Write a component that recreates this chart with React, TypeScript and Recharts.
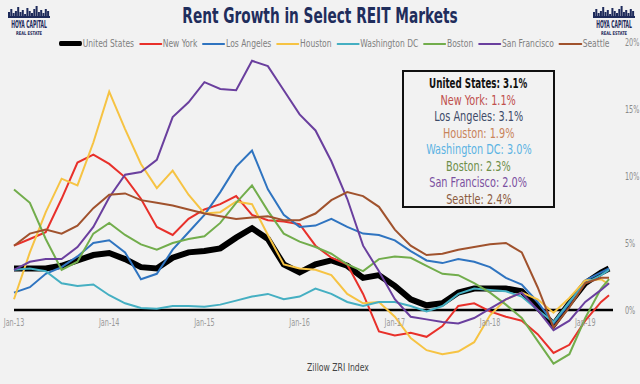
import { LineChart, Line, XAxis, YAxis, ReferenceLine } from 'recharts';

// months since Jan-13, sampled every two months
const months = [0, 2, 4, 6, 8, 10, 12, 14, 16, 18, 20, 22, 24, 26, 28, 30, 32, 34, 36, 38, 40, 42, 44, 46, 48, 50, 52, 54, 56, 58, 60, 62, 64, 66, 68, 70, 72, 74, 75];

const unitedStates = [3.1, 3.1, 3.1, 3.3, 3.7, 4.1, 4.25, 3.8, 3.2, 3.1, 3.9, 4.3, 4.4, 4.6, 5.4, 6.1, 5.3, 3.4, 2.8, 3.4, 3.7, 3.3, 2.4, 2.6, 1.8, 0.8, 0.35, 0.5, 1.3, 1.6, 1.6, 1.6, 1.4, 0.2, -1.1, 0.5, 2.0, 2.8, 3.1];
const newYork = [4.8, 5.3, 5.8, 8.3, 11.0, 11.6, 10.9, 9.9, 8.3, 6.2, 5.6, 6.8, 7.5, 7.9, 8.5, 7.1, 6.7, 6.6, 6.4, 4.8, 3.9, 3.4, 1.2, -1.6, -1.9, -1.7, -2.0, -1.2, 0.3, 0.5, -0.1, -0.5, -0.8, -1.8, -3.2, -2.6, -0.8, 0.6, 1.1];
const losAngeles = [1.3, 1.7, 2.7, 3.2, 4.0, 5.0, 5.2, 4.3, 2.3, 2.7, 4.5, 5.8, 7.1, 8.8, 10.7, 11.9, 9.0, 7.1, 6.2, 6.3, 6.8, 6.2, 5.7, 5.6, 5.2, 4.4, 3.7, 3.5, 3.8, 3.6, 3.2, 2.4, 1.9, 0.6, -1.0, 0.5, 2.2, 2.8, 3.1];
const houston = [0.8, 4.3, 7.3, 9.8, 9.3, 12.5, 16.3, 13.5, 10.9, 9.1, 10.4, 8.6, 7.2, 7.3, 8.1, 7.9, 5.6, 3.4, 3.1, 3.0, 2.6, 1.2, 0.5, 0.6, -0.5, -2.1, -3.0, -3.3, -3.1, -2.4, -0.4, 0.8, 1.3, 0.8, -0.2, 0.9, 2.2, 2.3, 1.9];
const washingtonDC = [3.0, 3.1, 2.9, 2.0, 1.8, 1.9, 1.1, 0.5, 0.15, 0.1, 0.3, 0.3, 0.25, 0.4, 0.7, 1.0, 1.2, 0.8, 1.0, 1.6, 1.2, 0.6, 0.3, 0.6, 0.6, 0.3, -0.1, 0.3, 1.2, 1.6, 1.5, 1.4, 1.0, 0.0, -0.9, 0.6, 2.0, 2.6, 3.0];
const boston = [9.0, 8.0, 5.3, 3.0, 3.6, 5.7, 6.5, 5.6, 4.9, 4.5, 5.0, 5.3, 5.5, 6.5, 8.0, 9.3, 7.4, 5.7, 5.1, 4.7, 4.2, 3.4, 2.9, 3.8, 4.0, 3.9, 3.3, 2.7, 2.6, 2.0, 1.3, 0.4, -0.6, -2.3, -4.0, -3.3, -0.6, 1.6, 2.3];
const sanFrancisco = [3.0, 3.6, 3.8, 3.8, 4.7, 6.2, 8.4, 10.1, 10.3, 11.2, 14.4, 15.5, 17.0, 16.5, 16.4, 18.6, 18.2, 16.4, 14.6, 13.4, 11.1, 8.3, 4.8, 2.9, 0.8, -0.5, -0.7, -0.9, -1.0, -0.6, 0.1, 0.8, 1.3, 0.0, -1.5, -0.8, 0.6, 1.5, 2.0];
const seattle = [4.8, 5.7, 6.0, 5.7, 6.3, 7.6, 8.6, 8.7, 8.2, 8.0, 7.8, 7.5, 7.2, 7.0, 6.8, 6.9, 7.0, 6.7, 6.7, 7.2, 8.2, 8.8, 8.5, 7.7, 6.0, 4.8, 4.1, 4.2, 4.5, 4.7, 4.9, 5.0, 4.3, 1.7, -1.3, 0.2, 2.0, 2.4, 2.4];

const yearTicks = [0, 12, 24, 36, 48, 60, 72];
const yearLabels = ['Jan-13', 'Jan-14', 'Jan-15', 'Jan-16', 'Jan-17', 'Jan-18', 'Jan-19'];
const percentTicks = [-5, 0, 5, 10, 15, 20];

const seriesNames = ['United States', 'New York', 'Los Angeles', 'Houston', 'Washington DC', 'Boston', 'San Francisco', 'Seattle'];
const latestReadings = ['3.1%', '1.1%', '3.1%', '1.9%', '3.0%', '2.3%', '2.0%', '2.4%'];

const series = [
  { key: 'us', values: unitedStates, color: '#000000', width: 6, boxColor: '#111111' },
  { key: 'ny', values: newYork, color: '#e8302a', width: 2, boxColor: '#c0504d' },
  { key: 'la', values: losAngeles, color: '#2f74c0', width: 2, boxColor: '#3d4a68' },
  { key: 'hou', values: houston, color: '#f6c343', width: 2, boxColor: '#c9845a' },
  { key: 'dc', values: washingtonDC, color: '#45afc2', width: 2, boxColor: '#5bb3e3' },
  { key: 'bos', values: boston, color: '#72ad4c', width: 2, boxColor: '#6e8f4a' },
  { key: 'sf', values: sanFrancisco, color: '#6a3f9e', width: 2, boxColor: '#7a4fa0' },
  { key: 'sea', values: seattle, color: '#a0522d', width: 2, boxColor: '#8b5a3c' },
];

const data = months.map((m, i) => {
  const row: Record<string, number> = { month: m };
  series.forEach((s) => { row[s.key] = s.values[i]; });
  return row;
});

const NARROW = '"DejaVu Sans Condensed", "Liberation Sans Narrow", sans-serif';
const PLOT_TOP = 42;
const PLOT_BOTTOM = 377;
// y pixel of the 0% line, from the axis domain [-5, 20]
const ZERO_Y = PLOT_TOP + ((20 - 0) / 25) * (PLOT_BOTTOM - PLOT_TOP);
const LEGEND_SQUEEZE = 0.765;

const YearTick = (props: any) => {
  const { x, payload } = props;
  const label = yearLabels[yearTicks.indexOf(payload.value)];
  return (
    <text transform={`translate(${x},${ZERO_Y + 16}) scale(0.72,1)`} textAnchor="middle" fontSize={10} fill="#9a9a9a" fontFamily={NARROW}>
      {label}
    </text>
  );
};

const PercentTick = (props: any) => {
  const { x, y, payload } = props;
  return (
    <text transform={`translate(${x + 4},${y + 3.5}) scale(0.72,1)`} textAnchor="start" fontSize={10} fill="#8a8a8a" fontFamily={NARROW}>
      {`${payload.value}%`}
    </text>
  );
};

const skyline = [6, 9, 5, 7, 11, 6, 8, 4, 10, 7, 5, 9, 12, 6, 8, 5, 9, 7];

function HoyaLogo({ left }: { left: number }) {
  return (
    <svg width={46} height={34} style={{ position: 'absolute', left, top: 3 }}>
      {skyline.map((h, i) => (
        <rect key={i} x={2 + i * 2.3} y={15 - h} width={2} height={h} fill="#1d2a5a" />
      ))}
      <rect x={2} y={13} width={42} height={2} fill="#1d2a5a" />
      <text transform="translate(23,25) scale(0.62,1.3)" textAnchor="middle" fontSize={8} fontWeight="bold" fill="#1d2a5a" fontFamily={NARROW}>
        HOYA CAPITAL
      </text>
      <text transform="translate(23,32) scale(0.8,1)" textAnchor="middle" fontSize={5} fontWeight="bold" fill="#1d2a5a" fontFamily={NARROW}>
        REAL ESTATE
      </text>
    </svg>
  );
}

export default function App() {
  return (
    <div style={{ position: 'absolute', left: 0, top: 0, width: 640, height: 384, background: '#f2f2f2', overflow: 'hidden', fontFamily: NARROW }}>
      <HoyaLogo left={6} />
      <HoyaLogo left={591} />
      <div style={{ position: 'absolute', left: 0, top: 4, width: 640, textAlign: 'center', fontSize: 21, fontWeight: 'bold', color: '#1f2d5c', transform: 'scaleX(0.725)', transformOrigin: '320px 0' }}>
        Rent Growth in Select REIT Markets
      </div>
      <div style={{ position: 'absolute', left: 59, top: 37, display: 'flex', alignItems: 'center', fontSize: 11, color: '#808080', whiteSpace: 'nowrap', transform: `scaleX(${LEGEND_SQUEEZE})`, transformOrigin: '0 0' }}>
        {series.map((s, i) => (
          <div key={s.key} style={{ display: 'flex', alignItems: 'center', marginRight: 5 / LEGEND_SQUEEZE }}>
            <div style={{ width: 23 / LEGEND_SQUEEZE, height: s.key === 'us' ? 5 : 2, background: s.color, borderRadius: 2, marginRight: 1 }} />
            <span>{seriesNames[i]}</span>
          </div>
        ))}
      </div>

      <LineChart width={640} height={384} data={data} margin={{ top: PLOT_TOP, right: 0, bottom: 0, left: 14 }} style={{ position: 'absolute', left: 0, top: 0 }}>
        <XAxis dataKey="month" type="number" domain={[0, 75.5]} ticks={yearTicks} tick={<YearTick />} axisLine={false} tickLine={false} height={384 - PLOT_BOTTOM} interval={0} />
        <YAxis orientation="right" width={27} domain={[-5, 20]} ticks={percentTicks} axisLine={false} tickLine={false} tick={<PercentTick />} />
        <ReferenceLine y={0} stroke="#000" strokeWidth={2.5} />
        {series.map((s) => (
          <Line key={s.key} type="linear" dataKey={s.key} stroke={s.color} strokeWidth={s.width} dot={false} isAnimationActive={false} />
        ))}
      </LineChart>

      <div style={{ position: 'absolute', left: 402, top: 70, width: 153, height: 138, border: '2px solid #111', boxSizing: 'border-box', textAlign: 'center', fontSize: 13.5, lineHeight: '16.5px', paddingTop: 3, whiteSpace: 'nowrap' }}>
        {series.map((s, i) => (
          <div key={s.key} style={{ color: s.boxColor, fontWeight: i === 0 ? 'bold' : 'normal' }}>
            <span style={{ display: 'inline-block', transform: `scaleX(${i === 0 ? 0.72 : 0.8})` }}>
              {seriesNames[i]}: {latestReadings[i]}
            </span>
          </div>
        ))}
      </div>

      <div style={{ position: 'absolute', left: 0, top: 361, width: 676, textAlign: 'center', fontSize: 11, color: '#444', transform: 'scaleX(0.78)', transformOrigin: '338px 0' }}>
        Zillow ZRI Index
      </div>
    </div>
  );
}
